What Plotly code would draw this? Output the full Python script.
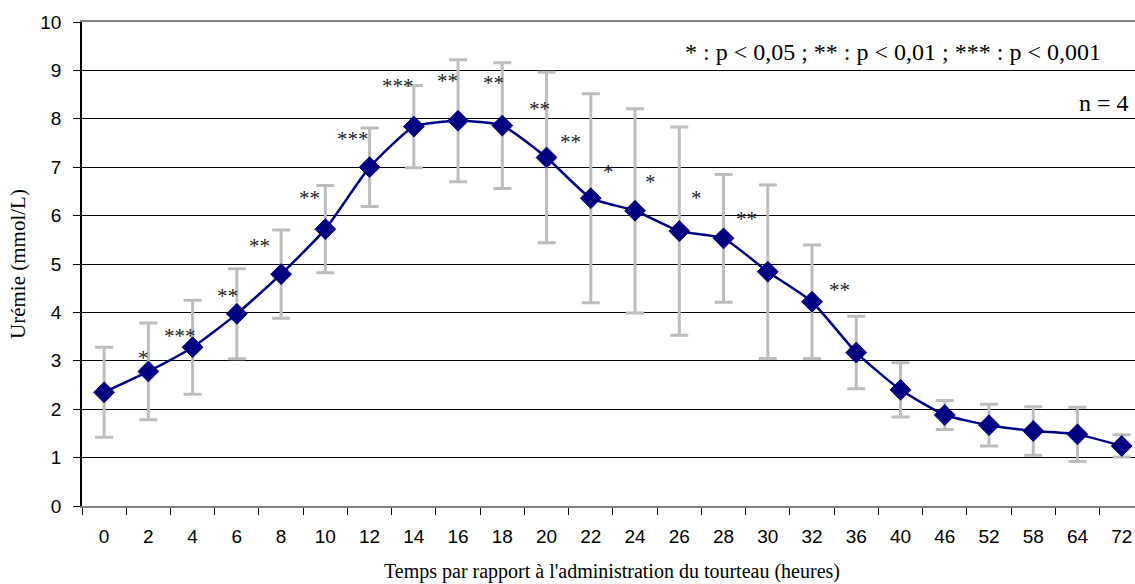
import plotly.graph_objects as go

# Sampling times (hours after administration) and mean uremia +/- SD (mmol/L)
hours = ["0", "2", "4", "6", "8", "10", "12", "14", "16", "18", "20", "22",
         "24", "26", "28", "30", "32", "36", "40", "46", "52", "58", "64", "72"]
uremia_mean = [2.35, 2.78, 3.28, 3.97, 4.79, 5.72, 7.00, 7.84, 7.96, 7.86, 7.20, 6.36,
               6.10, 5.68, 5.53, 4.84, 4.22, 3.17, 2.40, 1.88, 1.67, 1.55, 1.48, 1.24]
uremia_sd = [0.93, 1.00, 0.97, 0.93, 0.91, 0.90, 0.81, 0.85, 1.26, 1.30, 1.76, 2.16,
             2.11, 2.15, 1.32, 1.79, 1.17, 0.75, 0.56, 0.30, 0.43, 0.50, 0.56, 0.23]

# Significance marks and where they sit (category index, value)
signif_labels = ["*", "***", "**", "**", "**", "***", "***", "**", "**", "**",
                 "**", "*", "*", "*", "**", "**"]
signif_x = [0.90, 1.72, 2.78, 3.52, 4.65, 5.63, 6.64, 7.75, 8.79, 9.83,
            10.55, 11.39, 12.36, 13.38, 14.51, 16.61]
signif_y = [3.16, 3.62, 4.44, 5.48, 6.47, 7.69, 8.78, 8.88, 8.84, 8.31,
            7.62, 7.00, 6.80, 6.47, 6.03, 4.57]

y_ticks = list(range(0, 11))

NAVY = "#000080"
SERIF = "Liberation Serif, Times New Roman, serif"
SANS = "Liberation Sans, Arial, sans-serif"

fig = go.Figure()

# error bars drawn first so the curve sits on top
fig.add_trace(go.Scatter(
    x=hours, y=uremia_mean, mode="markers",
    marker=dict(size=1, color="rgba(0,0,0,0)"),
    error_y=dict(type="data", array=uremia_sd, symmetric=True,
                 color="#BDBDBD", thickness=3, width=9),
    hoverinfo="skip", showlegend=False, cliponaxis=False,
))

fig.add_trace(go.Scatter(
    x=hours, y=uremia_mean, mode="lines+markers",
    line=dict(color=NAVY, width=2.5, shape="spline", smoothing=0.5),
    marker=dict(symbol="diamond", size=16, color=NAVY, line=dict(color=NAVY, width=1)),
    showlegend=False, cliponaxis=False,
))

annotations = []
for lab, xi, yi in zip(signif_labels, signif_x, signif_y):
    annotations.append(dict(
        x=xi, y=yi, xref="x", yref="y", text=lab, showarrow=False,
        font=dict(family=SERIF, size=21, color="#222222"),
        xanchor="center", yanchor="middle", yshift=-5,
    ))

annotations += [
    dict(x=0.9696, y=0.938, xref="paper", yref="paper",
         text="* : p &lt; 0,05 ; ** : p &lt; 0,01 ; *** : p &lt; 0,001",
         showarrow=False, xanchor="right", yanchor="middle",
         font=dict(family=SERIF, size=24, color="black")),
    dict(x=0.9962, y=0.8326, xref="paper", yref="paper", text="n = 4",
         showarrow=False, xanchor="right", yanchor="middle",
         font=dict(family=SERIF, size=24, color="black")),
    dict(x=0.503, y=-0.1343, xref="paper", yref="paper",
         text="Temps par rapport à l'administration du tourteau (heures)",
         showarrow=False, xanchor="center", yanchor="middle",
         font=dict(family=SERIF, size=20, color="black")),
    dict(x=-0.0608, y=0.5, xref="paper", yref="paper", text="Urémie (mmol/L)",
         showarrow=False, textangle=-90, xanchor="center", yanchor="middle",
         font=dict(family=SERIF, size=21, color="black")),
]

fig.update_layout(
    width=1135, height=584,
    margin=dict(l=82, r=0, t=22, b=78),
    paper_bgcolor="white", plot_bgcolor="white",
    annotations=annotations,
    xaxis=dict(
        type="category", range=[-0.5, 23.3],
        tickson="boundaries", ticks="outside", ticklen=7, tickcolor="black",
        ticklabelstandoff=12,
        tickfont=dict(family=SANS, size=19, color="black"),
        showgrid=False, zeroline=False,
        showline=True, linecolor="#808080", linewidth=2, mirror=True,
    ),
    yaxis=dict(
        range=[0, 10], tickvals=y_ticks, ticks="outside", ticklen=7, tickcolor="black",
        ticklabelstandoff=8,
        tickfont=dict(family=SANS, size=19, color="black"),
        showgrid=True, gridcolor="black", gridwidth=1, zeroline=False,
        showline=True, linecolor="black", linewidth=1.5,
    ),
)

fig.write_html("out.html")
